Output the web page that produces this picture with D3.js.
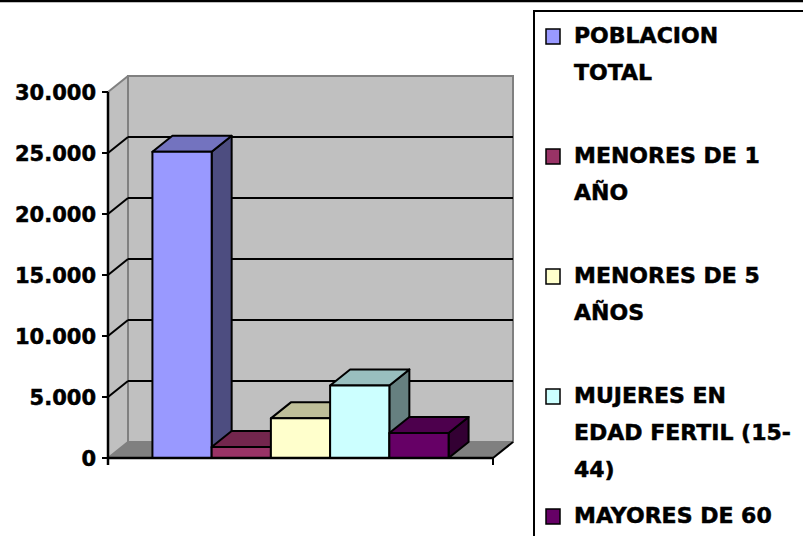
<!DOCTYPE html>
<html>
<head>
<meta charset="utf-8">
<script src="https://cdn.jsdelivr.net/npm/d3@7"></script>
<style>
  html, body { margin: 0; padding: 0; background: #fff; }
  svg { display: block; }
  text { font-family: "DejaVu Sans", sans-serif; font-weight: bold; fill: #000; stroke: #000; stroke-width: 0.5px; }
</style>
</head>
<body>
<svg id="chart" width="803" height="536"></svg>
<script>
const series = ["POBLACION TOTAL", "MENORES DE 1 AÑO", "MENORES DE 5 AÑOS", "MUJERES EN EDAD FERTIL (15-44)", "MAYORES DE 60"];
const values = [25100, 900, 3250, 5950, 2050];
const colors = ["#9999ff", "#993366", "#ffffcc", "#ccffff", "#660066"];
const legendLines = [["POBLACION", "TOTAL"], ["MENORES DE 1", "AÑO"], ["MENORES DE 5", "AÑOS"], ["MUJERES EN", "EDAD FERTIL (15-", "44)"], ["MAYORES DE 60"]];
const yTicks = [0, 5000, 10000, 15000, 20000, 25000, 30000];
const tickLabels = ["0", "5.000", "10.000", "15.000", "20.000", "25.000", "30.000"];

const svg = d3.select("#chart");

// depth offset of the 3d box
const dx = 20, dy = -16;
const left = 108, right = 493;

const y = d3.scaleLinear().domain([0, 30000]).range([458, 92]);
const x = d3.scaleBand().domain(series).range([left, right]).paddingInner(0).paddingOuter(0.75);

const y0 = y(0), yMax = y(30000);

// walls
svg.append("polygon")
   .attr("points", [[left, y0], [left, yMax], [left + dx, yMax + dy], [left + dx, y0 + dy]].join(" "))
   .attr("fill", "#c0c0c0");
svg.append("rect")
   .attr("x", left + dx).attr("y", yMax + dy)
   .attr("width", right - left).attr("height", y0 - yMax)
   .attr("fill", "#c0c0c0").attr("stroke", "#808080").attr("stroke-width", 2);
svg.append("polygon")
   .attr("points", [[left, y0], [right, y0], [right + dx, y0 + dy], [left + dx, y0 + dy]].join(" "))
   .attr("fill", "#808080");

// gridlines on back and side wall
const inner = yTicks.filter(t => t > 0 && t < 30000);
svg.selectAll(".grid-back").data(inner).enter().append("line")
   .attr("x1", left + dx).attr("x2", right + dx)
   .attr("y1", d => y(d) + dy).attr("y2", d => y(d) + dy)
   .attr("stroke", "#000").attr("stroke-width", 2);
svg.selectAll(".grid-side").data(inner).enter().append("line")
   .attr("x1", left).attr("x2", left + dx)
   .attr("y1", d => y(d)).attr("y2", d => y(d) + dy)
   .attr("stroke", "#000").attr("stroke-width", 2);

// grey edges of side wall and floor
svg.append("line").attr("x1", left).attr("y1", yMax).attr("x2", left + dx).attr("y2", yMax + dy)
   .attr("stroke", "#808080").attr("stroke-width", 2);
svg.append("line").attr("x1", left).attr("y1", y0).attr("x2", left + dx).attr("y2", y0 + dy)
   .attr("stroke", "#808080").attr("stroke-width", 2);

// bars, left to right so the next bar covers the side of the previous one
series.forEach((s, i) => {
    const x0 = x(s), w = x.bandwidth(), yt = y(values[i]);
    const base = d3.rgb(colors[i]);
    const g = svg.append("g").attr("stroke", "#000").attr("stroke-width", 2).attr("stroke-linejoin", "round");
    g.append("polygon")
     .attr("points", [[x0 + w, yt], [x0 + w + dx, yt + dy], [x0 + w + dx, y0 + dy], [x0 + w, y0]].join(" "))
     .attr("fill", d3.rgb(base.r * 0.5, base.g * 0.5, base.b * 0.5));
    g.append("polygon")
     .attr("points", [[x0, yt], [x0 + w, yt], [x0 + w + dx, yt + dy], [x0 + dx, yt + dy]].join(" "))
     .attr("fill", d3.rgb(base.r * 0.75, base.g * 0.75, base.b * 0.75));
    g.append("rect")
     .attr("x", x0).attr("y", yt).attr("width", w).attr("height", y0 - yt)
     .attr("fill", base);
});

// axes
svg.append("line").attr("x1", left).attr("y1", yMax).attr("x2", left).attr("y2", y0 + 7)
   .attr("stroke", "#000").attr("stroke-width", 2.5);
svg.append("line").attr("x1", left).attr("y1", y0).attr("x2", right).attr("y2", y0)
   .attr("stroke", "#000").attr("stroke-width", 2.5);
svg.append("line").attr("x1", right).attr("y1", y0).attr("x2", right + dx).attr("y2", y0 + dy)
   .attr("stroke", "#000").attr("stroke-width", 2);
svg.append("line").attr("x1", right).attr("y1", y0).attr("x2", right).attr("y2", y0 + 7)
   .attr("stroke", "#000").attr("stroke-width", 2);

svg.selectAll(".ytick").data(yTicks).enter().append("line")
   .attr("x1", left - 6).attr("x2", left)
   .attr("y1", d => y(d)).attr("y2", d => y(d))
   .attr("stroke", "#000").attr("stroke-width", 2);
svg.selectAll(".ylabel").data(yTicks).enter().append("text")
   .attr("x", 96).attr("y", d => y(d)).attr("dy", "0.36em")
   .attr("text-anchor", "end").style("font-size", "21px")
   .text((d, i) => tickLabels[i]);

// top border
svg.append("line").attr("x1", 0).attr("x2", 803).attr("y1", 1).attr("y2", 1)
   .attr("stroke", "#000").attr("stroke-width", 2.5);

// legend
const legend = svg.append("g");
legend.append("rect").attr("x", 534).attr("y", 11).attr("width", 320).attr("height", 600)
   .attr("fill", "#fff").attr("stroke", "#000").attr("stroke-width", 2);
series.forEach((s, i) => {
    const by = 43 + i * 120;
    legend.append("rect").attr("x", 546).attr("y", by - 14).attr("width", 14).attr("height", 15)
       .attr("fill", colors[i]).attr("stroke", "#000").attr("stroke-width", 1.5);
    legendLines[i].forEach((line, j) => {
        legend.append("text").attr("x", 574).attr("y", by + j * 37)
           .style("font-size", "22px").text(line);
    });
});
</script>
</body>
</html>
